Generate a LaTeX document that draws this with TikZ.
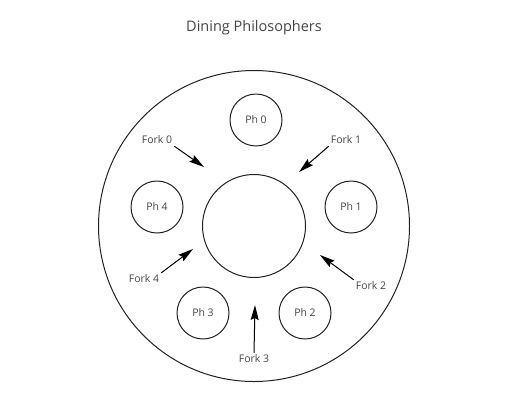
\documentclass[tikz,border=0pt]{standalone}
\usepackage{fontspec}
\setmainfont{Open Sans}
\usetikzlibrary{arrows.meta}
\definecolor{txtgray}{HTML}{444444}
\definecolor{linegray}{HTML}{222222}

\begin{document}
\begin{tikzpicture}[x=1pt, y=-1pt,
  phil/.style={circle, draw=linegray, line width=1pt, minimum size=52pt, inner sep=0pt, text=txtgray, font=\fontsize{10.5}{12}\selectfont},
  forklbl/.style={text=txtgray, inner sep=2pt, font=\fontsize{10.5}{12}\selectfont},
  forkarrow/.style={-{Stealth[length=15pt,width=8pt,inset=2pt]}, line width=1pt, draw=black}]
\useasboundingbox (0,0) rectangle (510,405);

\node[text=txtgray, font=\fontsize{14.5}{17}\selectfont] (title) at (254,28) {Dining Philosophers};

% table and bowl
\node[circle, draw=linegray, line width=1pt, minimum size=311pt, inner sep=0pt] (table) at (254,226) {};
\node[circle, draw=linegray, line width=1pt, minimum size=103pt, inner sep=0pt] (bowl) at (254,226) {};

% philosophers
\node[phil] (ph0) at (256,120) {Ph 0};
\node[phil] (ph1) at (351,207) {Ph 1};
\node[phil] (ph2) at (305,313) {Ph 2};
\node[phil] (ph3) at (203,313) {Ph 3};
\node[phil] (ph4) at (157,207) {Ph 4};

% forks
\node[forklbl] (fork0) at (157,140) {Fork 0};
\node[forklbl] (fork1) at (346,140) {Fork 1};
\node[forklbl] (fork2) at (371,286) {Fork 2};
\node[forklbl] (fork3) at (254,359) {Fork 3};
\node[forklbl] (fork4) at (144,279) {Fork 4};

\coordinate (tip0) at (204,167);
\coordinate (tip1) at (299,172);
\coordinate (tip2) at (320,255);
\coordinate (tip3) at (255,305);
\coordinate (tip4) at (193,249);

\draw[forkarrow] (fork0.south east) -- (tip0);
\draw[forkarrow] (fork1.south west) -- (tip1);
\draw[forkarrow] (fork2.north west) -- (tip2);
\draw[forkarrow] (fork3.north) -- (tip3);
\draw[forkarrow] (fork4.north east) -- (tip4);
\end{tikzpicture}
\end{document}
